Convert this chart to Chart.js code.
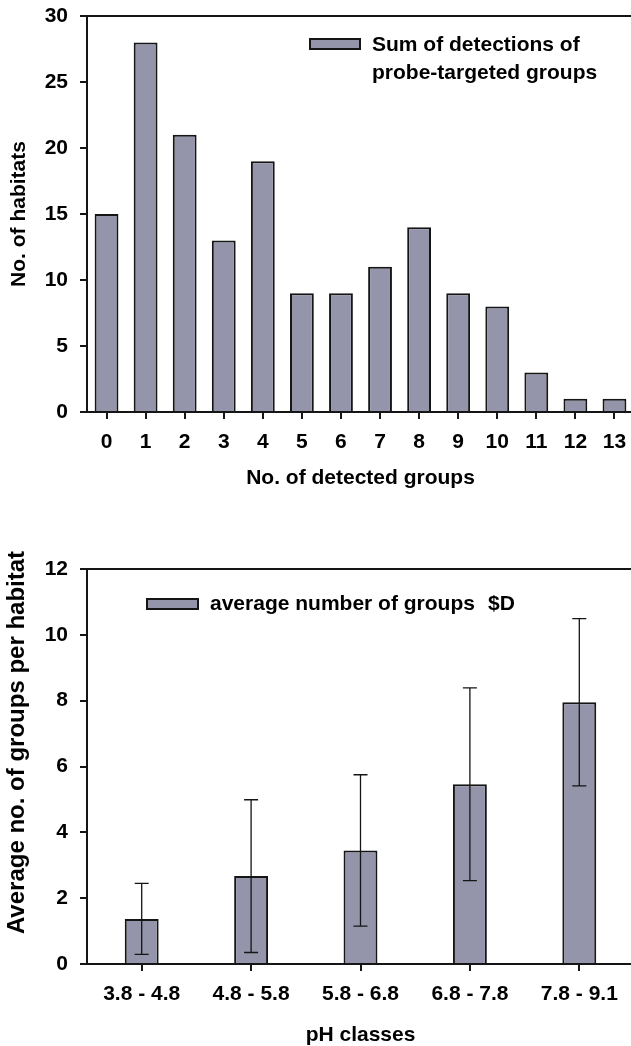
<!DOCTYPE html>
<html>
<head>
<meta charset="utf-8">
<script src="https://cdn.jsdelivr.net/npm/chart.js@4.4.0/dist/chart.umd.min.js"></script>
<style>
  html, body { margin: 0; padding: 0; background: #fff; overflow: hidden; width: 631px; height: 1046px; }
  canvas { display: block; }
</style>
</head>
<body>
<canvas id="countChart" width="636" height="500"></canvas>
<canvas id="phChart" width="636" height="546"></canvas>
<script>
// Histogram: number of habitats by number of detected probe-targeted groups
const groupCounts = ['0', '1', '2', '3', '4', '5', '6', '7', '8', '9', '10', '11', '12', '13'];
const habitatCounts = [15, 28, 21, 13, 19, 9, 9, 11, 14, 9, 8, 3, 1, 1];
const habitatTicks = [0, 5, 10, 15, 20, 25, 30];

// Average number of groups per habitat for each pH class (mean and SD)
const phClasses = ['3.8 - 4.8', '4.8 - 5.8', '5.8 - 6.8', '6.8 - 7.8', '7.8 - 9.1'];
const meanGroups = [1.37, 2.67, 3.45, 5.46, 7.95];
const sdGroups = [1.08, 2.32, 2.30, 2.93, 2.54];
const meanTicks = [0, 2, 4, 6, 8, 10, 12];

const INK = '#151515';
const BAR_FILL = '#9494ab';
const FONT = "'Liberation Sans', Arial, Helvetica, sans-serif";

Chart.defaults.font.family = FONT;
Chart.defaults.font.weight = 'bold';
Chart.defaults.font.size = 21;
Chart.defaults.color = '#000';

// Draws symmetric error bars (mean ± sd) over each bar
const errorBarPlugin = {
  id: 'errorBars',
  afterDatasetsDraw(chart, args, opts) {
    if (!opts || !opts.sd) return;
    const { ctx } = chart;
    const yScale = chart.scales.y;
    const meta = chart.getDatasetMeta(0);
    const values = chart.data.datasets[0].data;
    ctx.save();
    ctx.strokeStyle = opts.color || INK;
    ctx.lineWidth = opts.lineWidth || 1.3;
    const half = (opts.capWidth || 14) / 2;
    meta.data.forEach((bar, i) => {
      const x = bar.x;
      const yHi = yScale.getPixelForValue(values[i] + opts.sd[i]);
      const yLo = yScale.getPixelForValue(values[i] - opts.sd[i]);
      ctx.beginPath();
      ctx.moveTo(x, yHi); ctx.lineTo(x, yLo);
      ctx.moveTo(x - half, yHi); ctx.lineTo(x + half, yHi);
      ctx.moveTo(x - half, yLo); ctx.lineTo(x + half, yLo);
      ctx.stroke();
    });
    ctx.restore();
  }
};

// Legend drawn inside the plot area: a bar swatch followed by one or more text lines
const insideLegendPlugin = {
  id: 'insideLegend',
  afterDraw(chart, args, opts) {
    if (!opts || !opts.lines) return;
    const { ctx, chartArea } = chart;
    const ds = chart.data.datasets[0];
    ctx.save();
    const bx = chartArea.left + opts.boxX;
    const by = chartArea.top + opts.boxY;
    ctx.fillStyle = ds.backgroundColor;
    ctx.fillRect(bx, by, opts.boxW, opts.boxH);
    ctx.strokeStyle = INK;
    ctx.lineWidth = 2;
    ctx.strokeRect(bx, by, opts.boxW, opts.boxH);
    ctx.fillStyle = '#000';
    ctx.font = 'bold 21px ' + FONT;
    ctx.textBaseline = 'middle';
    ctx.textAlign = 'left';
    opts.lines.forEach((line, i) => {
      line.forEach(part => {
        ctx.fillText(part.text, chartArea.left + part.x, chartArea.top + opts.textY + i * opts.lineGap);
      });
    });
    ctx.restore();
  }
};

// Rotated value-axis caption placed at a given centre (used for the lower panel)
const sideTitlePlugin = {
  id: 'sideTitle',
  afterDraw(chart, args, opts) {
    if (!opts || !opts.text) return;
    const { ctx } = chart;
    ctx.save();
    ctx.translate(opts.x, opts.y);
    ctx.rotate(-Math.PI / 2);
    ctx.fillStyle = '#000';
    ctx.font = 'bold ' + opts.size + 'px ' + FONT;
    ctx.textAlign = 'center';
    ctx.textBaseline = 'middle';
    ctx.fillText(opts.text, 0, 0);
    ctx.restore();
  }
};

function frameGrid(maxValue) {
  return {
    color: c => (c.tick && c.tick.value === maxValue) ? INK : 'rgba(0,0,0,0)',
    tickColor: INK,
    lineWidth: 2,
    tickLength: 7,
    drawOnChartArea: true
  };
}

function makeChart(id, cfg) {
  return new Chart(document.getElementById(id), {
    type: 'bar',
    data: {
      labels: cfg.labels,
      datasets: [{
        label: cfg.label,
        data: cfg.values,
        backgroundColor: BAR_FILL,
        borderColor: INK,
        borderWidth: 2,
        borderSkipped: 'start',
        categoryPercentage: 1,
        barPercentage: cfg.barPercentage
      }]
    },
    options: {
      responsive: false,
      animation: false,
      events: [],
      layout: { padding: { top: cfg.padTop, right: 2, left: 0, bottom: 0 } },
      plugins: {
        legend: { display: false },
        tooltip: { enabled: false },
        errorBars: cfg.errorBars || {},
        insideLegend: cfg.legend,
        sideTitle: cfg.sideTitle || {}
      },
      scales: {
        x: {
          offset: true,
          grid: { offset: false, drawOnChartArea: false, tickColor: INK, lineWidth: 2, tickLength: 7 },
          border: { color: INK, width: 2 },
          ticks: { padding: 11, maxRotation: 0, autoSkip: false, color: '#000' },
          title: {
            display: true, text: cfg.xTitle, color: '#000',
            font: { lineHeight: cfg.xTitleLH },
            padding: { top: 0, bottom: cfg.xTitlePad }
          },
          afterFit: s => { s.height = cfg.xHeight; s.paddingLeft = 0; s.paddingRight = 0; }
        },
        y: {
          min: cfg.yTicks[0],
          max: cfg.yTicks[cfg.yTicks.length - 1],
          afterBuildTicks: s => { s.ticks = cfg.yTicks.map(v => ({ value: v })); },
          grid: frameGrid(cfg.yTicks[cfg.yTicks.length - 1]),
          border: { color: INK, width: 2 },
          ticks: { padding: 12, color: '#000' },
          title: { display: !!cfg.yTitle, text: cfg.yTitle || '', padding: { top: 7, bottom: 0 }, color: '#000' },
          afterFit: s => { s.width = 87; s.paddingTop = 0; s.paddingBottom = 0; }
        }
      }
    },
    plugins: [errorBarPlugin, insideLegendPlugin, sideTitlePlugin]
  });
}

makeChart('countChart', {
  labels: groupCounts,
  values: habitatCounts,
  label: 'Sum of detections of probe-targeted groups',
  barPercentage: 0.61,
  padTop: 16,
  xHeight: 88,
  xTitlePad: 9,
  xTitleLH: 1.2,
  yTicks: habitatTicks,
  xTitle: 'No. of detected groups',
  yTitle: 'No. of habitats',
  legend: {
    boxX: 223, boxY: 23, boxW: 50, boxH: 10,
    textY: 29, lineGap: 28,
    lines: [
      [{ text: 'Sum of detections of', x: 285 }],
      [{ text: 'probe-targeted groups', x: 285 }]
    ]
  }
});

makeChart('phChart', {
  labels: phClasses,
  values: meanGroups,
  label: 'average number of groups',
  barPercentage: 0.31,
  padTop: 69,
  xHeight: 82,
  xTitlePad: 0,
  xTitleLH: 1.0,
  yTicks: meanTicks,
  xTitle: 'pH classes',
  sideTitle: { text: 'Average no. of groups per habitat', x: 17.5, y: 242.5, size: 24 },
  errorBars: { sd: sdGroups, capWidth: 14, lineWidth: 1.3 },
  legend: {
    boxX: 60, boxY: 30, boxW: 51, boxH: 10,
    textY: 35, lineGap: 28,
    lines: [
      [{ text: 'average number of groups', x: 123 }, { text: '$D', x: 401 }]
    ]
  }
});
</script>
</body>
</html>
